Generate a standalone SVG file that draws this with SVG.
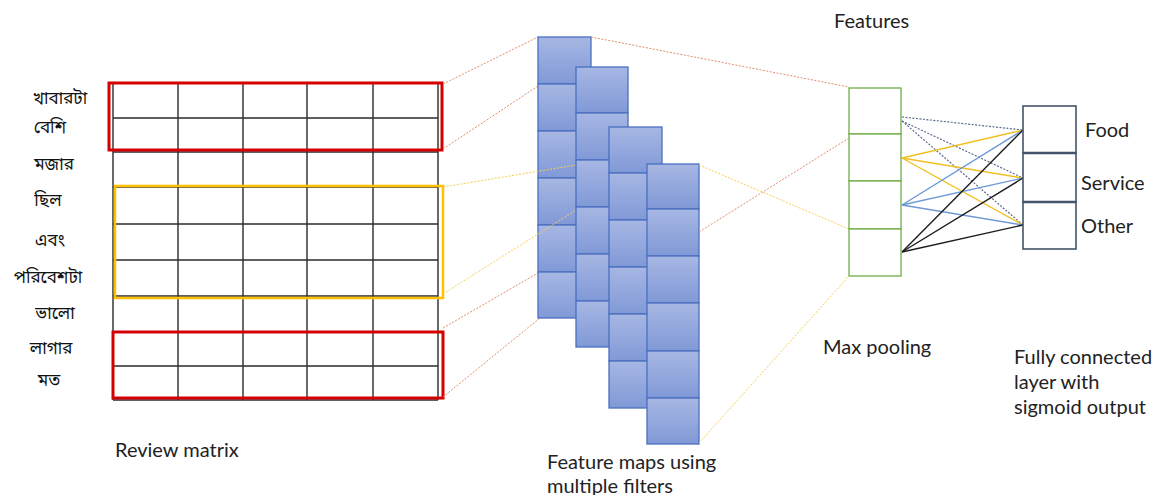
<svg xmlns="http://www.w3.org/2000/svg" width="1157" height="495" viewBox="0 0 1157 495">
  <defs>
    <linearGradient id="cellFill" x1="0" y1="0" x2="0" y2="1">
      <stop offset="0" stop-color="#a7b7e3"/>
      <stop offset="1" stop-color="#8099d7"/>
    </linearGradient>
    <style>
      .lbl { font-family: Lato, "Liberation Sans", sans-serif; font-size: 20px; fill: #222; }
      .bn { font-family: "Noto Sans Bengali", "Noto Sans", "Lohit Bengali", sans-serif; font-size: 17px; fill: #111; text-anchor: middle; }
      .grid { stroke: #2b2b2b; stroke-width: 1.4; fill: none; }
      .cell { fill: url(#cellFill); stroke: #4a6fbf; stroke-width: 1.3; }
      .pool { fill: #fff; stroke: #70ad47; stroke-width: 1.3; }
      .fc { fill: #fff; stroke: #44546a; stroke-width: 1.6; }
      .dotR { stroke: #e0906c; stroke-width: 1; stroke-dasharray: 2 1.5; fill: none; }
      .dotY { stroke: #f7cf55; stroke-width: 1; stroke-dasharray: 2 1.5; fill: none; }
      .c1 { stroke: #5b6b8c; stroke-width: 1.2; stroke-dasharray: 2 1.5; }
      .c2 { stroke: #f0c020; stroke-width: 1.4; }
      .c3 { stroke: #6e9ad6; stroke-width: 1.4; }
      .c4 { stroke: #1c1c1c; stroke-width: 1.4; }
    </style>
  </defs>

  <rect width="1157" height="495" fill="#fff"/>

  <!-- word labels -->
  <g id="words">
    <text class="bn" x="60" y="104">খাবারটা</text>
    <text class="bn" x="50" y="133">বেশি</text>
    <text class="bn" x="54" y="170">মজার</text>
    <text class="bn" x="48" y="206">ছিল</text>
    <text class="bn" x="50" y="246">এবং</text>
    <text class="bn" x="48" y="283">পরিবেশটা</text>
    <text class="bn" x="55" y="319">ভালো</text>
    <text class="bn" x="51" y="354">লাগার</text>
    <text class="bn" x="49" y="386">মত</text>
  </g>

  <!-- review matrix: 9 words x 5 embedding columns -->
  <g id="review-matrix">
    <path class="grid" d="M113 83V400M178 83V400M243 83V400M307 83V400M373 83V400M438 83V400"/>
    <path class="grid" d="M113 83H438M113 118H438M113 152H438M113 187H438M113 224H438M113 260H438M113 296H438M113 332H438M113 366H438M113 400H438"/>
    <rect x="109" y="83" width="333" height="67" fill="none" stroke="#d40000" stroke-width="3"/>
    <rect x="115" y="186" width="328" height="112" fill="none" stroke="#ffc000" stroke-width="2.5"/>
    <rect x="113" y="332" width="330" height="66" fill="none" stroke="#d40000" stroke-width="3"/>
  </g>

  <!-- filter windows to feature maps (under the maps) -->
  <g id="connectors-in">
    <line class="dotR" x1="443" y1="84" x2="538" y2="37"/>
    <line class="dotR" x1="443" y1="149" x2="538" y2="86"/>
    <line class="dotR" x1="443" y1="328" x2="538" y2="273"/>
    <line class="dotR" x1="443" y1="397" x2="540" y2="318"/>
  </g>

  <!-- feature maps -->
  <g id="feature-map-1">
    <rect class="cell" x="538" y="37" width="53" height="47"/>
    <rect class="cell" x="538" y="84" width="53" height="47"/>
    <rect class="cell" x="538" y="131" width="53" height="47"/>
    <rect class="cell" x="538" y="178" width="53" height="47"/>
    <rect class="cell" x="538" y="225" width="53" height="47"/>
    <rect class="cell" x="538" y="272" width="53" height="46"/>
  </g>

  <g id="connectors-yellow">
    <line class="dotY" x1="443" y1="187" x2="576" y2="165"/>
    <line class="dotY" x1="443" y1="294" x2="576" y2="210"/>
  </g>

  <g id="feature-map-2">
    <rect class="cell" x="576" y="67" width="52" height="46"/>
    <rect class="cell" x="576" y="113" width="52" height="47"/>
    <rect class="cell" x="576" y="160" width="52" height="47"/>
    <rect class="cell" x="576" y="207" width="52" height="47"/>
    <rect class="cell" x="576" y="254" width="52" height="47"/>
    <rect class="cell" x="576" y="301" width="52" height="46"/>
  </g>
  <g id="feature-map-3">
    <rect class="cell" x="609" y="127" width="53" height="46"/>
    <rect class="cell" x="609" y="173" width="53" height="47"/>
    <rect class="cell" x="609" y="220" width="53" height="47"/>
    <rect class="cell" x="609" y="267" width="53" height="47"/>
    <rect class="cell" x="609" y="314" width="53" height="47"/>
    <rect class="cell" x="609" y="361" width="53" height="47"/>
  </g>
  <g id="feature-map-4">
    <rect class="cell" x="647" y="164" width="52" height="45"/>
    <rect class="cell" x="647" y="209" width="52" height="47"/>
    <rect class="cell" x="647" y="256" width="52" height="47"/>
    <rect class="cell" x="647" y="303" width="52" height="48"/>
    <rect class="cell" x="647" y="351" width="52" height="47"/>
    <rect class="cell" x="647" y="398" width="52" height="46"/>
  </g>

  <!-- feature maps to pooled features, pooled features to outputs -->
  <g id="connectors">
    <line class="dotR" x1="591" y1="37" x2="849" y2="87"/>
    <line class="dotR" x1="699" y1="232" x2="849" y2="138"/>
    <line class="dotY" x1="699" y1="165" x2="849" y2="229"/>
    <line class="dotY" x1="699" y1="443" x2="849" y2="276"/>

    <line class="c1" x1="902" y1="117" x2="1023" y2="130"/>
    <line class="c1" x1="902" y1="121" x2="1023" y2="178"/>
    <line class="c1" x1="902" y1="121" x2="1023" y2="225"/>

    <line class="c2" x1="902" y1="158" x2="1023" y2="130"/>
    <line class="c2" x1="902" y1="158" x2="1023" y2="178"/>
    <line class="c2" x1="902" y1="158" x2="1023" y2="225"/>

    <line class="c3" x1="902" y1="205" x2="1023" y2="130"/>
    <line class="c3" x1="902" y1="205" x2="1023" y2="178"/>
    <line class="c3" x1="902" y1="205" x2="1023" y2="225"/>

    <line class="c4" x1="902" y1="252" x2="1023" y2="130"/>
    <line class="c4" x1="902" y1="252" x2="1023" y2="178"/>
    <line class="c4" x1="902" y1="252" x2="1023" y2="225"/>
  </g>

  <!-- max pooled feature vector -->
  <g id="pooled-features">
    <rect class="pool" x="849" y="88" width="52" height="46"/>
    <rect class="pool" x="849" y="134" width="52" height="47"/>
    <rect class="pool" x="849" y="181" width="52" height="48"/>
    <rect class="pool" x="849" y="229" width="52" height="47"/>
  </g>

  <!-- fully connected output units -->
  <g id="output-layer">
    <rect class="fc" x="1023" y="106" width="53" height="47"/>
    <rect class="fc" x="1023" y="153" width="53" height="49"/>
    <rect class="fc" x="1023" y="202" width="53" height="47"/>
    <path d="M1023 153H1076M1023 202H1076" stroke="#44546a" stroke-width="2.4"/>
    <text class="lbl" x="1085" y="137">Food</text>
    <text class="lbl" x="1081" y="190">Service</text>
    <text class="lbl" x="1081" y="233">Other</text>
  </g>

  <!-- captions -->
  <g id="captions">
    <text class="lbl" x="834" y="28">Features</text>
    <text class="lbl" x="823" y="354">Max pooling</text>
    <text class="lbl" x="1014" y="364">Fully connected</text>
    <text class="lbl" x="1014" y="389">layer with</text>
    <text class="lbl" x="1014" y="414">sigmoid output</text>
    <text class="lbl" x="115" y="457">Review matrix</text>
    <text class="lbl" x="547" y="469">Feature maps using</text>
    <text class="lbl" x="547" y="493">multiple filters</text>
  </g>
</svg>
